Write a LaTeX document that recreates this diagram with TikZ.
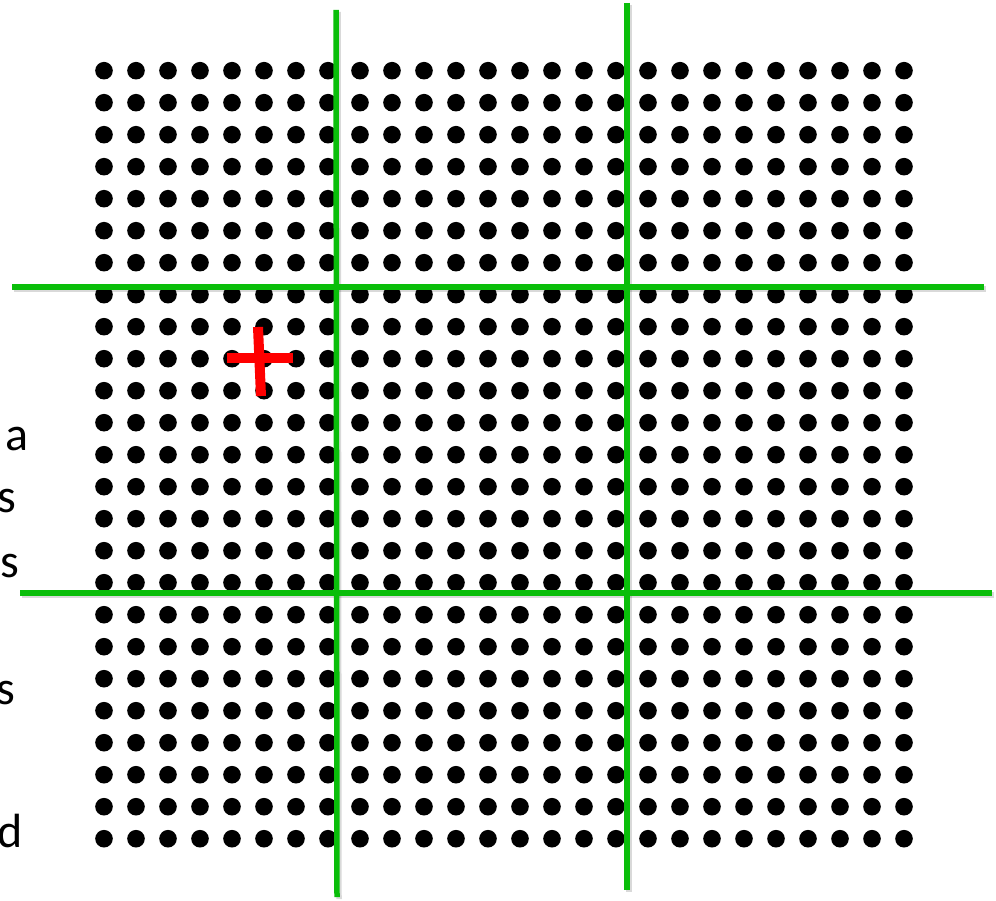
\documentclass[tikz,border=0pt]{standalone}
\usepackage{fontspec}
\setmainfont{Carlito}
\usepackage{xcolor}
\usetikzlibrary{positioning}

\definecolor{gridgreen}{RGB}{10,190,10}

\begin{document}
\begin{tikzpicture}[
    x=1pt, y=-1pt,
    gridpoint/.style={fill=black},
    cutline/.style={draw=gridgreen, line width=5.5pt},
    cutshadow/.style={draw=black, opacity=0.15, line width=5.5pt},
    redmark/.style={draw=red, line width=10pt},
    letter/.style={font=\fontsize{48}{58}\selectfont, anchor=base east, inner sep=0pt}
]
\useasboundingbox (0,0) rectangle (996,901);

% cut-off text on the left
\node[letter] (la) at (29,450) {a};
\node[letter] (ls1) at (16,512) {s};
\node[letter] (ls2) at (19,577) {s};
\node[letter] (ls3) at (15,704) {s};
\node[letter] (ld) at (23,847) {d};

% dots
\foreach \i in {0,...,25}
  \foreach \j in {0,...,24}
    \fill[gridpoint] (104+32*\i, 70.7+32*\j) circle[radius=8.8];

% green lines
\draw[cutshadow] (13.5,289) -- (985.5,289);
\draw[cutshadow] (21.5,595) -- (993.5,595);
\draw[cutshadow] (338,12) -- (339,899);
\draw[cutshadow] (629,5) -- (629,892);
\draw[cutline] (12,287) -- (984,287);
\draw[cutline] (20,593) -- (992,593);
\draw[cutline] (336,10) -- (337,897);
\draw[cutline] (627,3) -- (627,890);

% red cross
\draw[redmark] (227,357.7) -- (293,357.7);
\draw[redmark] (258,327) -- (261,396);
\end{tikzpicture}
\end{document}
